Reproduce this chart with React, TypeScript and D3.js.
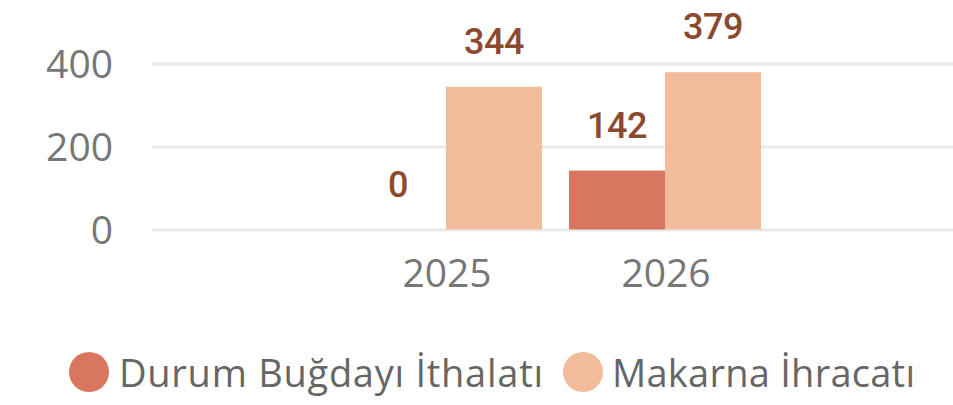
import React from "react";
import * as d3 from "d3";

const categories = ["2025", "2026"];
const seriesNames = ["Durum Buğdayı İthalatı", "Makarna İhracatı"];
const durumValues = [0, 142];
const makarnaValues = [344, 379];
const yTicks = [0, 200, 400];
const colors = ["#D9765F", "#F2BB9B"];

const W = 953;
const H = 405;

export default function App() {
  const x = d3
    .scaleBand<string>()
    .domain(categories)
    .range([336.5, 774.5])
    .paddingInner(0.1233)
    .paddingOuter(0.0616);
  const xs = d3
    .scaleBand<string>()
    .domain(seriesNames)
    .range([0, x.bandwidth()])
    .padding(0);
  const y = d3.scaleLinear().domain([0, 400]).range([229.5, 63.5]);

  const series = [durumValues, makarnaValues];
  const tickFont = "'Open Sans', 'Noto Sans', sans-serif";
  const labelFont = "Roboto, 'DejaVu Sans', sans-serif";

  return (
    <svg
      width={W}
      height={H}
      style={{ position: "absolute", left: 0, top: 0, background: "#fff" }}
    >
      {yTicks.map((t) => (
        <g key={t}>
          <line x1={152} x2={953} y1={y(t) + 0.5} y2={y(t) + 0.5} stroke="#e9e9e9" strokeWidth={3} />
          <text
            x={113}
            y={y(t)}
            dy="0.36em"
            textAnchor="end"
            fontFamily={tickFont}
            fontSize={39}
            fill="#777777"
          >
            {t}
          </text>
        </g>
      ))}
      {categories.map((c, ci) => (
        <g key={c} transform={`translate(${x(c)},0)`}>
          {seriesNames.map((s, si) => {
            const v = series[si][ci];
            const bx = xs(s)!;
            const bw = xs.bandwidth();
            return (
              <g key={s}>
                {v > 0 && (
                  <rect x={bx} y={y(v)} width={bw} height={y(0) - y(v)} fill={colors[si]} />
                )}
                <text
                  x={bx + bw / 2}
                  y={y(v) - 33}
                  textAnchor="middle"
                  fontFamily={labelFont}
                  fontWeight={500}
                  fontSize={36}
                  letterSpacing={-0.5}
                  fill="#8B4A2F"
                >
                  {v}
                </text>
              </g>
            );
          })}
          <text
            x={x.bandwidth() / 2 + 1}
            y={287}
            textAnchor="middle"
            fontFamily={tickFont}
            fontSize={39}
            fill="#777777"
          >
            {c}
          </text>
        </g>
      ))}
      <g>
        <circle cx={89} cy={372} r={20} fill={colors[0]} />
        <text
          x={119}
          y={387}
          fontFamily={tickFont}
          fontSize={38}
          fill="#666666"
          textLength={424}
          lengthAdjust="spacing"
        >
          {seriesNames[0]}
        </text>
        <circle cx={583} cy={372} r={20} fill={colors[1]} />
        <text
          x={612}
          y={387}
          fontFamily={tickFont}
          fontSize={38}
          fill="#666666"
          textLength={303}
          lengthAdjust="spacing"
        >
          {seriesNames[1]}
        </text>
      </g>
    </svg>
  );
}
